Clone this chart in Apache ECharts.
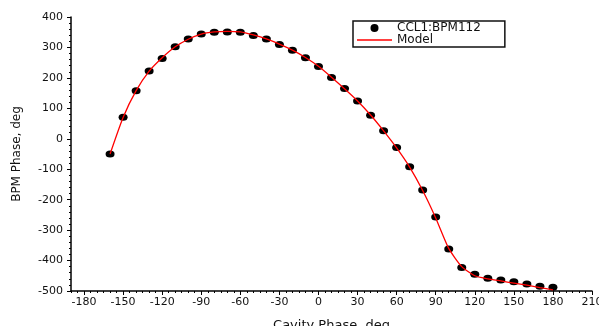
<!DOCTYPE html>
<html>
<head>
<meta charset="utf-8">
<script src="https://cdn.jsdelivr.net/npm/echarts@6/dist/echarts.min.js"></script>
<style>
html,body{margin:0;padding:0;background:#fff;}
#chart{width:599px;height:326px;}
</style>
</head>
<body>
<div id="chart"></div>
<script>
// Cavity phase (deg)
var cavityPhase = [-160,-150,-140,-130,-120,-110,-100,-90,-80,-70,-60,-50,-40,-30,-20,-10,0,10,20,30,40,50,60,70,80,90,100,110,120,130,140,150,160,170,180];
// Measured BPM phase, CCL1:BPM112 (deg)
var bpmPhase = [-50,71,158,223,264,302,328,344,350,351,350,339,328,310,291,266,237,201,165,124,77,26,-29,-92,-168,-257,-362,-423,-445,-458,-464,-470,-477,-484,-488];
// Model BPM phase (deg)
var modelPhase = [-50,70,158,222,266,302,327,344,351,353,351,341,328,311,291,267,238,202,164,124,78,26,-30,-93,-170,-260,-360,-420,-450,-460,-467,-474,-481,-489,-496];
// Tick labels
var xTicks = [-180,-150,-120,-90,-60,-30,0,30,60,90,120,150,180,210];
var yTicks = [-500,-400,-300,-200,-100,0,100,200,300,400];

var measured = cavityPhase.map(function(x,i){return [x,bpmPhase[i]];});
var model = cavityPhase.map(function(x,i){return [x,modelPhase[i]];});

var font = 'DejaVu Sans';
var chart = echarts.init(document.getElementById('chart'));
chart.setOption({
  animation:false,
  backgroundColor:'#fff',
  grid:{left:71,right:7,top:17,bottom:35,containLabel:false,outerBoundsMode:'none'},
  legend:{
    orient:'vertical',left:353,top:21,
    padding:[1,24,1,4],itemGap:0,itemWidth:35,itemHeight:8,
    borderColor:'#111',borderWidth:1.5,backgroundColor:'#fff',
    textStyle:{fontFamily:font,fontSize:12,color:'#111'},
    data:[
      {name:'CCL1:BPM112',icon:'circle',itemStyle:{color:'#000',opacity:1}},
      {name:'Model',icon:'path://M0,0h35v1.3h-35z',itemStyle:{color:'#ff0000'}}
    ]
  },
  xAxis:[{
    type:'value',min:-190,max:210,
    name:'Cavity Phase, deg',nameLocation:'middle',nameGap:28,
    nameTextStyle:{fontFamily:font,fontSize:13,color:'#111'},
    axisLine:{show:true,onZero:false,lineStyle:{color:'#000',width:1.5}},
    axisTick:{show:true,length:4,lineStyle:{color:'#000'},customValues:xTicks},
    axisLabel:{fontFamily:font,fontSize:11,color:'#111',margin:6,customValues:xTicks},
    splitLine:{show:false}
  },{
    type:'value',min:-190,max:210,interval:5,gridIndex:0,position:'bottom',
    axisLine:{show:false,onZero:false},
    axisTick:{show:true,length:2,lineStyle:{color:'#000'}},
    axisLabel:{show:false},splitLine:{show:false}
  }],
  yAxis:{
    type:'value',min:-500,max:400,interval:100,
    name:'BPM Phase, deg',nameLocation:'middle',nameGap:48,
    nameTextStyle:{fontFamily:font,fontSize:12,color:'#111'},
    axisLine:{show:true,onZero:false,lineStyle:{color:'#000',width:1.5}},
    axisTick:{show:true,length:4,lineStyle:{color:'#000'}},
    minorTick:{show:true,splitNumber:5,length:2,lineStyle:{color:'#000'}},
    axisLabel:{fontFamily:font,fontSize:11,color:'#111',margin:8},
    splitLine:{show:false}
  },
  series:[{
    name:'CCL1:BPM112',type:'scatter',data:measured,
    symbol:'circle',symbolSize:[9,7],itemStyle:{color:'#000',opacity:1},z:2
  },{
    name:'Model',type:'line',data:model,smooth:0.2,
    symbol:'none',lineStyle:{color:'#ff0000',width:1.3},itemStyle:{color:'#ff0000'},z:3
  }]
});
</script>
</body>
</html>
